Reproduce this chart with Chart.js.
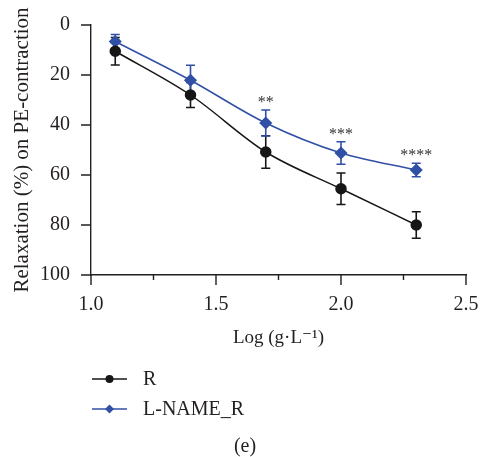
<!DOCTYPE html>
<html>
<head>
<meta charset="utf-8">
<title>Relaxation curves</title>
<script src="https://cdn.jsdelivr.net/npm/chart.js@4"></script>
<style>
    html, body { margin: 0; padding: 0; background: #fff; }
    #wrap { width: 480px; height: 457px; }
</style>
</head>
<body>
<div id="wrap"><canvas id="relaxChart" width="480" height="457"></canvas></div>
<script>
// log concentration (g/L)
const logDose = [1.097, 1.398, 1.699, 2.0, 2.301];

// R group, mean and SEM
const rMean = [10.5, 28, 50.8, 65.5, 80];
const rSem = [5.5, 5, 6.5, 6.3, 5.3];

// L-NAME_R group, mean and SEM
const lnameMean = [6.6, 22.1, 39.2, 51.2, 58];
const lnameSem = [2.8, 6, 5.2, 4.5, 2.7];

// significance marks over L-NAME_R
const sigMarks = ["", "", "**", "***", "****"];

const xTicks = [1.0, 1.25, 1.5, 1.75, 2.0, 2.25, 2.5];
const yTicks = [0, 20, 40, 60, 80, 100];

const FONT = "'Liberation Serif', 'DejaVu Serif', serif";
const INK = "#231f20";
const BLUE = "#3050a6";
const BLACK = "#161616";

const points = (ys) => logDose.map((x, i) => ({ x, y: ys[i] }));

/* error bars, drawn under the markers */
const errorBars = {
    id: "errorBars",
    beforeDatasetsDraw(chart) {
        const { ctx, scales: { x, y } } = chart;
        chart.data.datasets.forEach(ds => {
            ctx.save();
            ctx.strokeStyle = ds.borderColor;
            ctx.lineWidth = 1.6;
            ds.data.forEach((p, i) => {
                const px = x.getPixelForValue(p.x);
                const top = y.getPixelForValue(p.y - ds.sem[i]);
                const bot = y.getPixelForValue(p.y + ds.sem[i]);
                ctx.beginPath();
                ctx.moveTo(px, top); ctx.lineTo(px, bot);
                ctx.moveTo(px - 4.5, top); ctx.lineTo(px + 4.5, top);
                ctx.moveTo(px - 4.5, bot); ctx.lineTo(px + 4.5, bot);
                ctx.stroke();
            });
            ctx.restore();
        });
    }
};

/* asterisks above the blue error bars */
const sigLabels = {
    id: "sigLabels",
    afterDatasetsDraw(chart) {
        const { ctx, scales: { x, y } } = chart;
        ctx.save();
        ctx.fillStyle = "#333";
        ctx.font = "16px " + FONT;
        ctx.textAlign = "center";
        ctx.textBaseline = "middle";
        sigMarks.forEach((m, i) => {
            if (!m) return;
            const px = x.getPixelForValue(logDose[i]);
            const py = y.getPixelForValue(lnameMean[i] - lnameSem[i]) - 7;
            ctx.fillText(m, px, py);
        });
        ctx.restore();
    }
};

/* tick marks: long for labelled x ticks, short for the minor ones */
const tickMarks = {
    id: "tickMarks",
    afterDraw(chart) {
        const { ctx, chartArea, scales: { x, y } } = chart;
        ctx.save();
        ctx.strokeStyle = INK;
        ctx.lineWidth = 1.4;
        ctx.beginPath();
        xTicks.forEach(v => {
            const px = x.getPixelForValue(v);
            const len = (v * 2) % 1 === 0 ? 10 : 5;
            ctx.moveTo(px, chartArea.bottom);
            ctx.lineTo(px, chartArea.bottom + len);
        });
        yTicks.forEach(v => {
            const py = y.getPixelForValue(v);
            ctx.moveTo(chartArea.left, py);
            ctx.lineTo(chartArea.left - 10, py);
        });
        ctx.stroke();
        ctx.restore();
    }
};

/* legend stacked under the axis title, plus panel letter */
const sideLegend = {
    id: "sideLegend",
    afterDraw(chart) {
        const { ctx } = chart;
        ctx.save();
        ctx.font = "20px " + FONT;
        ctx.textBaseline = "middle";
        chart.data.datasets.forEach((ds, i) => {
            const yy = 379 + i * 30;
            ctx.strokeStyle = ds.borderColor;
            ctx.lineWidth = 1.4;
            ctx.beginPath();
            ctx.moveTo(92, yy); ctx.lineTo(127, yy);
            ctx.stroke();
            ctx.fillStyle = ds.pointBackgroundColor;
            ctx.beginPath();
            if (ds.pointStyle === "rectRot") {
                ctx.moveTo(109.5, yy - 4.5); ctx.lineTo(114, yy);
                ctx.lineTo(109.5, yy + 4.5); ctx.lineTo(105, yy);
                ctx.closePath();
            } else {
                ctx.arc(109.5, yy, 4, 0, Math.PI * 2);
            }
            ctx.fill();
            ctx.fillStyle = INK;
            ctx.fillText(ds.label, 143, yy + 1);
        });
        ctx.textAlign = "center";
        ctx.fillText("(e)", 245, 447);
        ctx.restore();
    }
};

new Chart(document.getElementById("relaxChart"), {
    type: "scatter",
    data: {
        datasets: [
            {
                label: "R",
                data: points(rMean),
                sem: rSem,
                showLine: true,
                borderColor: BLACK,
                backgroundColor: BLACK,
                pointBackgroundColor: BLACK,
                borderWidth: 1.5,
                pointStyle: "circle",
                pointRadius: 5,
                cubicInterpolationMode: "monotone"
            },
            {
                label: "L-NAME_R",
                data: points(lnameMean),
                sem: lnameSem,
                showLine: true,
                borderColor: BLUE,
                backgroundColor: BLUE,
                pointBackgroundColor: BLUE,
                borderWidth: 1.5,
                pointStyle: "rectRot",
                pointRadius: 5.5,
                cubicInterpolationMode: "monotone"
            }
        ]
    },
    options: {
        responsive: false,
        animation: false,
        layout: { padding: { left: 0, right: 14, top: 25, bottom: 108 } },
        plugins: {
            legend: { display: false },
            tooltip: { enabled: false }
        },
        scales: {
            x: {
                type: "linear",
                min: 1,
                max: 2.5,
                afterFit: s => { s.height = 74; s.paddingRight = 0; s.paddingLeft = 0; },
                afterBuildTicks: s => { s.ticks = xTicks.map(v => ({ value: v })); },
                border: { display: true, color: INK, width: 1.4 },
                grid: { drawOnChartArea: false, tickLength: 10, tickColor: "transparent" },
                ticks: {
                    color: INK,
                    font: { family: FONT, size: 20 },
                    padding: 8,
                    maxRotation: 0,
                    autoSkip: false,
                    callback: v => ((v * 2) % 1 === 0 ? v.toFixed(1) : "")
                },
                title: {
                    display: true,
                    text: "Log (g·L⁻¹)",
                    color: INK,
                    font: { family: FONT, size: 19 },
                    padding: { top: 0, bottom: 0 }
                }
            },
            y: {
                reverse: true,
                min: 0,
                max: 100,
                afterFit: s => { s.width = 91; },
                afterBuildTicks: s => { s.ticks = yTicks.map(v => ({ value: v })); },
                border: { display: true, color: INK, width: 1.4 },
                grid: { drawOnChartArea: false, tickLength: 10, tickColor: "transparent" },
                ticks: {
                    color: INK,
                    font: { family: FONT, size: 20 },
                    padding: 11
                },
                title: {
                    display: true,
                    text: "Relaxation (%) on PE-contraction",
                    color: INK,
                    font: { family: FONT, size: 21 },
                    padding: { top: 10, bottom: 0 }
                }
            }
        }
    },
    plugins: [errorBars, sigLabels, tickMarks, sideLegend]
});
</script>
</body>
</html>
